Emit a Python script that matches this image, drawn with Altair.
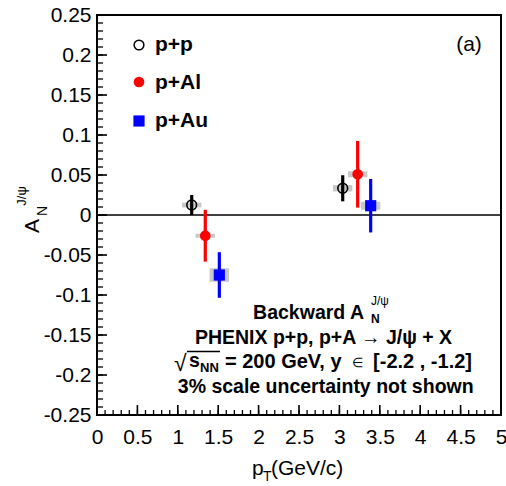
import altair as alt
import pandas as pd

FONT = "Liberation Sans"

# ---- data ----
series = ["p+p", "p+Al", "p+Au"]
pt = {
    "p+p": [1.172, 3.041],
    "p+Al": [1.340, 3.226],
    "p+Au": [1.514, 3.387],
}
an = {
    "p+p": [0.0125, 0.0334],
    "p+Al": [-0.0259, 0.0509],
    "p+Au": [-0.0750, 0.0116],
}
stat = {
    "p+p": [0.0125, 0.0163],
    "p+Al": [0.0324, 0.0417],
    "p+Au": [0.0285, 0.0334],
}
syst = {
    "p+p": [0.0030, 0.0040],
    "p+Al": [0.0025, 0.0037],
    "p+Au": [0.0085, 0.0050],
}
box_half_width = 0.12

x_major = [0, 0.5, 1, 1.5, 2, 2.5, 3, 3.5, 4, 4.5, 5]
y_major = [-0.25, -0.2, -0.15, -0.1, -0.05, 0, 0.05, 0.1, 0.15, 0.2, 0.25]
x_minor = [round(i * 0.1, 2) for i in range(51)]
y_minor = [round(-0.25 + i * 0.01, 2) for i in range(51)]

colors = {"p+p": "black", "p+Al": "#ff0000", "p+Au": "#0000ff"}

rows = []
for s in series:
    for p, v, e, sy in zip(pt[s], an[s], stat[s], syst[s]):
        rows.append(dict(series=s, pt=p, an=v, lo=v - e, hi=v + e,
                         slo=v - sy, shi=v + sy,
                         xl=p - box_half_width, xr=p + box_half_width))
df = pd.DataFrame(rows)

W, H = 404, 400

xscale = alt.Scale(domain=[0, 5], nice=False, zero=False)
yscale = alt.Scale(domain=[-0.25, 0.25], nice=False, zero=False)
xaxis = alt.Axis(values=x_major, labelExpr="'' + datum.value", title=None,
                 ticks=False, domain=False, grid=False, labelPadding=11,
                 labelFontSize=21, labelFont=FONT, labelColor="black",
                 labelFlush=False, labelOverlap=False)
yaxis = alt.Axis(values=y_major, labelExpr="'' + datum.value", title=None,
                 ticks=False, domain=False, grid=False, labelPadding=6,
                 labelFontSize=21, labelFont=FONT, labelColor="black",
                 labelFlush=False, labelOverlap=False)

base = alt.Chart(df)

boxes = base.mark_rect(color="#c8c8c8").encode(
    x=alt.X("xl:Q", scale=xscale, axis=xaxis),
    x2="xr:Q",
    y=alt.Y("slo:Q", scale=yscale, axis=yaxis),
    y2="shi:Q",
)

zero = alt.Chart(pd.DataFrame({"z": [0]})).mark_rule(
    color="black", strokeWidth=1.6).encode(
    y=alt.Y("z:Q", scale=yscale, axis=yaxis))

layers = [boxes, zero]
for s in series:
    sub = base.transform_filter(alt.datum.series == s)
    layers.append(sub.mark_rule(color=colors[s], strokeWidth=3.2).encode(
        x=alt.X("pt:Q", scale=xscale, axis=xaxis),
        y=alt.Y("lo:Q", scale=yscale, axis=yaxis),
        y2="hi:Q",
    ))
marker_props = {
    "p+p": dict(shape="circle", filled=False, color="black", strokeWidth=1.6, size=95, opacity=1),
    "p+Al": dict(shape="circle", filled=True, color="#ff0000", size=115, opacity=1),
    "p+Au": dict(shape="square", filled=True, color="#0000ff", size=125, opacity=1),
}
for s in series:
    sub = base.transform_filter(alt.datum.series == s)
    layers.append(sub.mark_point(**marker_props[s]).encode(
        x=alt.X("pt:Q", scale=xscale, axis=xaxis),
        y=alt.Y("an:Q", scale=yscale, axis=yaxis),
    ))

# inward ticks
def yticks(vals, length, width):
    return alt.Chart(pd.DataFrame({"v": vals})).mark_rule(
        color="black", strokeWidth=width).encode(
        y=alt.Y("v:Q", scale=yscale, axis=yaxis),
        x=alt.value(0), x2=alt.value(length))

def xticks(vals, length, width):
    return alt.Chart(pd.DataFrame({"v": vals})).mark_rule(
        color="black", strokeWidth=width).encode(
        x=alt.X("v:Q", scale=xscale, axis=xaxis),
        y=alt.value(H), y2=alt.value(H - length))

layers += [yticks(y_minor, 6, 1.3), yticks(y_major, 10, 1.6),
           xticks(x_minor, 5, 1.3), xticks(x_major, 10, 1.6)]

one = pd.DataFrame({"t": [""]})

def label(txt, x, y, size, weight="normal", align="left",
          baseline="alphabetic", angle=None):
    kw = dict(fontSize=size, fontWeight=weight, align=align,
              baseline=baseline, font=FONT, color="black")
    if angle is not None:
        kw["angle"] = angle
    return alt.Chart(pd.DataFrame({"t": [txt]})).mark_text(**kw).encode(
        text="t:N", x=alt.value(x), y=alt.value(y))

# legend
layers.append(alt.Chart(one).mark_point(shape="circle", filled=False, color="black",
                                        strokeWidth=1.5, size=95, opacity=1).encode(
    x=alt.value(42), y=alt.value(30)))
layers.append(alt.Chart(one).mark_point(shape="circle", filled=True, color="#ff0000",
                                        size=115, opacity=1).encode(
    x=alt.value(42), y=alt.value(67)))
layers.append(alt.Chart(one).mark_point(shape="square", filled=True, color="#0000ff",
                                        size=125, opacity=1).encode(
    x=alt.value(42), y=alt.value(106)))
layers.append(label("p+p", 58, 36, 21, "bold"))
layers.append(label("p+Al", 58, 74, 21, "bold"))
layers.append(label("p+Au", 58, 112, 21, "bold"))
layers.append(label("(a)", 372, 36, 21, align="center"))

# axis titles
layers.append(label("A", -64, 211, 21, align="center", baseline="middle", angle=270))
layers.append(label("N", -54, 196, 14, align="center", baseline="middle", angle=270))
layers.append(label("J/\u03c8", -75, 181, 13, align="center", baseline="middle", angle=270))
layers.append(label("p", 155, 460, 21))
layers.append(label("T", 166, 466, 14))
layers.append(label("(GeV/c)", 174, 460, 21))

# annotation block
layers.append(label("Backward A", 267, 304, 19.5, "bold", align="right"))
layers.append(label("N", 274, 308, 12, "bold"))
layers.append(label("J/\u03c8", 274, 290, 12))
layers.append(label("PHENIX p+p, p+A \u2192 J/\u03c8 + X", 226.5, 329, 19.5, "bold", align="center"))
layers.append(label("\u221a", 77, 356, 23))
layers.append(alt.Chart(one).mark_rule(color="black", strokeWidth=1.5).encode(
    x=alt.value(90), x2=alt.value(123), y=alt.value(336.5)))
layers.append(label("s", 92, 352, 19.5, "bold"))
layers.append(label("NN", 103, 357, 13, "bold"))
layers.append(label("= 200 GeV,  y", 128, 353, 20, "bold"))
layers.append(label("\u2208", 255, 352, 13))
layers.append(label("[-2.2 , -1.2]", 375, 353, 20, "bold", align="right"))
layers.append(label("3% scale uncertainty not shown", 228.7, 378, 19.5, "bold", align="center"))

chart = alt.layer(*layers).properties(
    width=W, height=H,
    autosize=alt.AutoSizeParams(type="none"),
    padding={"left": 97, "top": 15, "right": 5, "bottom": 71},
    background="white",
).configure_view(stroke="black", strokeWidth=2).configure_text(font=FONT)

chart.save("out.html", embed_options={"renderer": "svg", "actions": False})
